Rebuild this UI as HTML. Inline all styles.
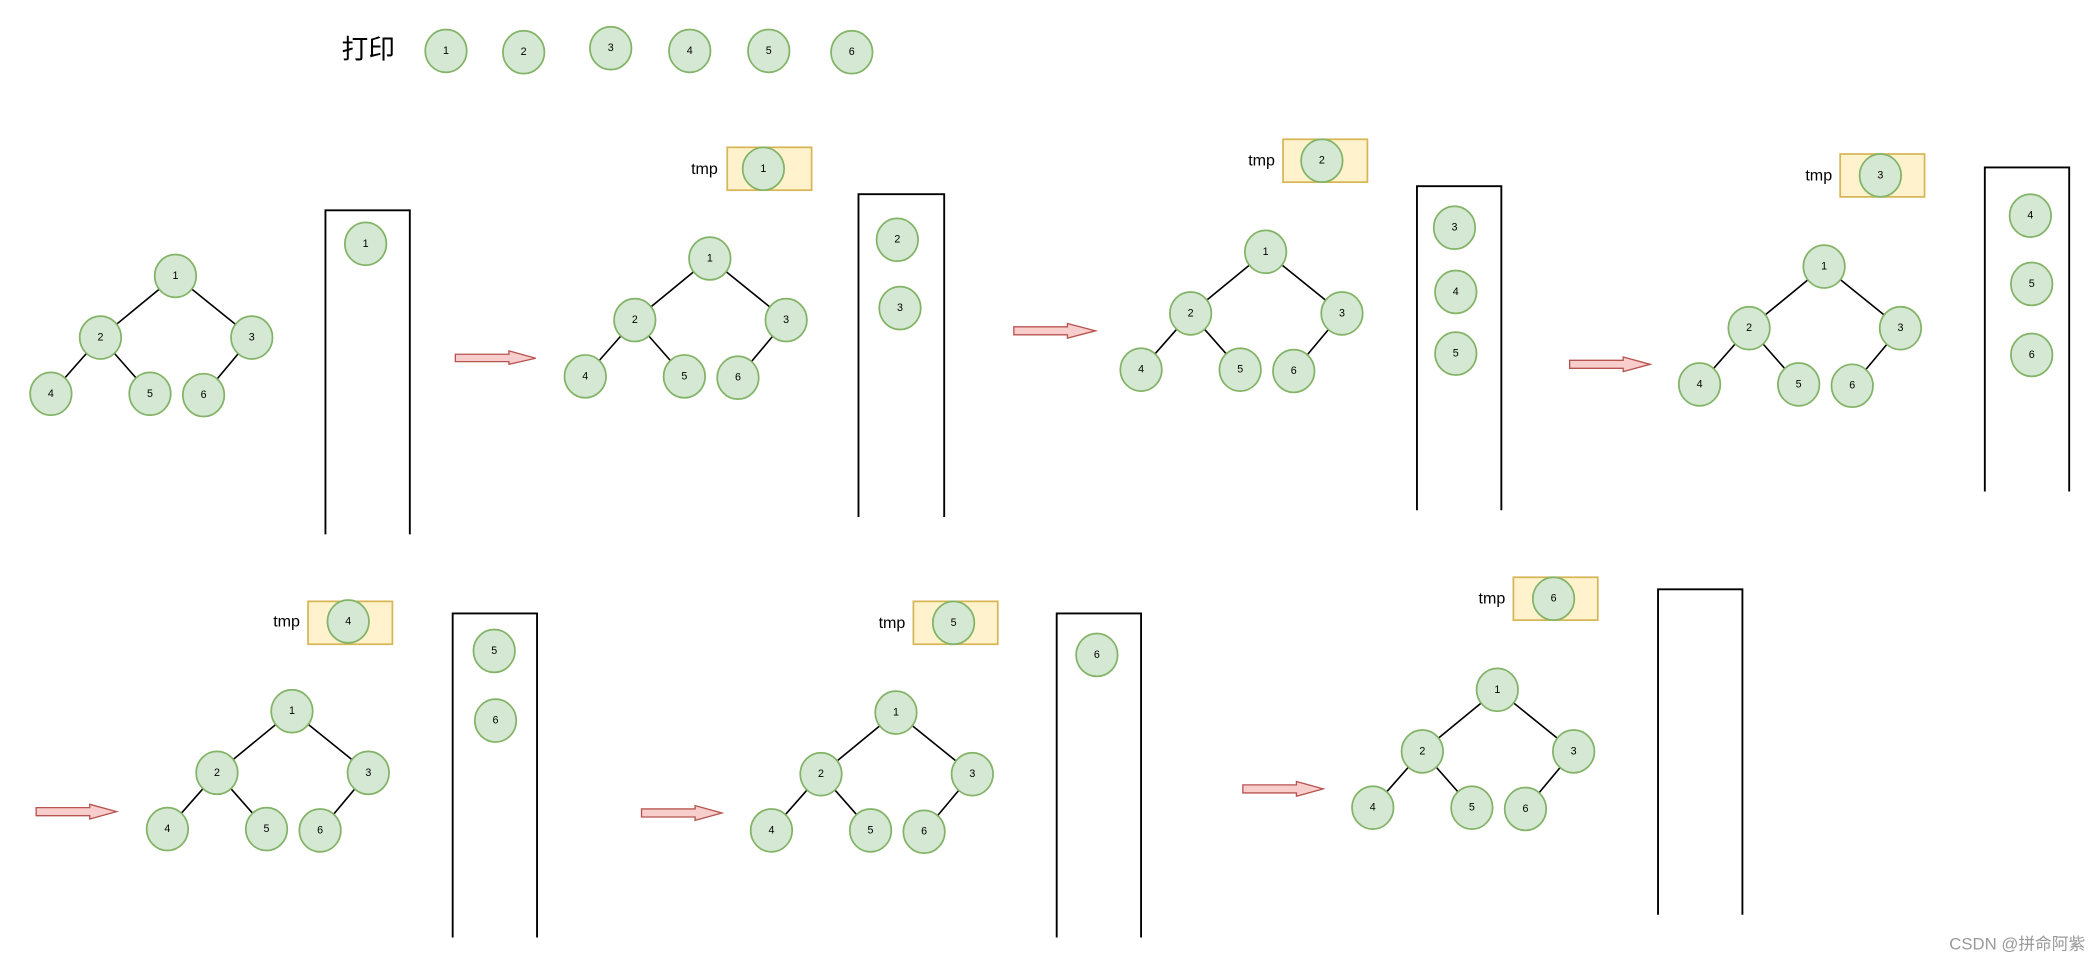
<!DOCTYPE html>
<html><head><meta charset="utf-8"><style>
html,body{margin:0;padding:0;background:#fff;}
svg{display:block}
.c{fill:#d5e8d4;stroke:#82b366;stroke-width:1.3}
.t{font-family:"Liberation Sans",sans-serif;font-size:8px;text-anchor:middle;dominant-baseline:central;fill:#000}
.l{stroke:#000;stroke-width:1.2}
.s{fill:none;stroke:#000;stroke-width:1.4}
.b{fill:#fff2cc;stroke:#d6b656;stroke-width:1.3}
.a{fill:#f8cecc;stroke:#b85450;stroke-width:1}
.tm{font-family:"Liberation Sans",sans-serif;font-size:12px;text-anchor:end;dominant-baseline:central}
</style></head><body>
<svg width="2100" height="961" viewBox="0 0 1568 717.5" preserveAspectRatio="none">
<defs>
<g id="tr">
<line class="l" x1="0" y1="0" x2="-56" y2="46"/><line class="l" x1="0" y1="0" x2="57" y2="46"/>
<line class="l" x1="-56" y1="46" x2="-93" y2="88"/><line class="l" x1="-56" y1="46" x2="-19" y2="88"/>
<line class="l" x1="57" y1="46" x2="21" y2="89"/>
<ellipse class="c" cx="0" cy="0" rx="15.5" ry="16"/><ellipse class="c" cx="-56" cy="46" rx="15.5" ry="16"/>
<ellipse class="c" cx="57" cy="46" rx="15.5" ry="16"/><ellipse class="c" cx="-93" cy="88" rx="15.5" ry="16"/>
<ellipse class="c" cx="-19" cy="88" rx="15.5" ry="16"/><ellipse class="c" cx="21" cy="89" rx="15.5" ry="16"/>
</g>
</defs>
<text x="255" y="37" style="font-family:'Liberation Sans','Noto Sans CJK SC',sans-serif;font-size:20px;dominant-baseline:central">打印</text>
<ellipse class="c" cx="333" cy="38" rx="15.5" ry="16"/><text class="t" x="333" y="38">1</text>
<ellipse class="c" cx="391" cy="39" rx="15.5" ry="16"/><text class="t" x="391" y="39">2</text>
<ellipse class="c" cx="456" cy="36" rx="15.5" ry="16"/><text class="t" x="456" y="36">3</text>
<ellipse class="c" cx="515" cy="38" rx="15.5" ry="16"/><text class="t" x="515" y="38">4</text>
<ellipse class="c" cx="574" cy="38" rx="15.5" ry="16"/><text class="t" x="574" y="38">5</text>
<ellipse class="c" cx="636" cy="39" rx="15.5" ry="16"/><text class="t" x="636" y="39">6</text>

<!-- trees -->
<g transform="translate(131,206)"><use href="#tr"/><text class="t" x="0" y="0">1</text><text class="t" x="-56" y="46">2</text><text class="t" x="57" y="46">3</text><text class="t" x="-93" y="88">4</text><text class="t" x="-19" y="88">5</text><text class="t" x="21" y="89">6</text></g>
<g transform="translate(530,193)"><use href="#tr"/><text class="t" x="0" y="0">1</text><text class="t" x="-56" y="46">2</text><text class="t" x="57" y="46">3</text><text class="t" x="-93" y="88">4</text><text class="t" x="-19" y="88">5</text><text class="t" x="21" y="89">6</text></g>
<g transform="translate(945,188)"><use href="#tr"/><text class="t" x="0" y="0">1</text><text class="t" x="-56" y="46">2</text><text class="t" x="57" y="46">3</text><text class="t" x="-93" y="88">4</text><text class="t" x="-19" y="88">5</text><text class="t" x="21" y="89">6</text></g>
<g transform="translate(1362,199)"><use href="#tr"/><text class="t" x="0" y="0">1</text><text class="t" x="-56" y="46">2</text><text class="t" x="57" y="46">3</text><text class="t" x="-93" y="88">4</text><text class="t" x="-19" y="88">5</text><text class="t" x="21" y="89">6</text></g>
<g transform="translate(218,531)"><use href="#tr"/><text class="t" x="0" y="0">1</text><text class="t" x="-56" y="46">2</text><text class="t" x="57" y="46">3</text><text class="t" x="-93" y="88">4</text><text class="t" x="-19" y="88">5</text><text class="t" x="21" y="89">6</text></g>
<g transform="translate(669,532)"><use href="#tr"/><text class="t" x="0" y="0">1</text><text class="t" x="-56" y="46">2</text><text class="t" x="57" y="46">3</text><text class="t" x="-93" y="88">4</text><text class="t" x="-19" y="88">5</text><text class="t" x="21" y="89">6</text></g>
<g transform="translate(1118,515)"><use href="#tr"/><text class="t" x="0" y="0">1</text><text class="t" x="-56" y="46">2</text><text class="t" x="57" y="46">3</text><text class="t" x="-93" y="88">4</text><text class="t" x="-19" y="88">5</text><text class="t" x="21" y="89">6</text></g>

<!-- stacks -->
<path class="s" d="M243,399V157H306V399"/>
<ellipse class="c" cx="273" cy="182" rx="15.5" ry="16"/><text class="t" x="273" y="182">1</text>
<path class="s" d="M641,386V145H705V386"/>
<ellipse class="c" cx="670" cy="179" rx="15.5" ry="16"/><text class="t" x="670" y="179">2</text>
<ellipse class="c" cx="672" cy="230" rx="15.5" ry="16"/><text class="t" x="672" y="230">3</text>
<path class="s" d="M1058,381V139H1121V381"/>
<ellipse class="c" cx="1086" cy="170" rx="15.5" ry="16"/><text class="t" x="1086" y="170">3</text>
<ellipse class="c" cx="1087" cy="218" rx="15.5" ry="16"/><text class="t" x="1087" y="218">4</text>
<ellipse class="c" cx="1087" cy="264" rx="15.5" ry="16"/><text class="t" x="1087" y="264">5</text>
<path class="s" d="M1482,367V125H1545V367"/>
<ellipse class="c" cx="1516" cy="161" rx="15.5" ry="16"/><text class="t" x="1516" y="161">4</text>
<ellipse class="c" cx="1517" cy="212" rx="15.5" ry="16"/><text class="t" x="1517" y="212">5</text>
<ellipse class="c" cx="1517" cy="265" rx="15.5" ry="16"/><text class="t" x="1517" y="265">6</text>
<path class="s" d="M338,700V458H401V700"/>
<ellipse class="c" cx="369" cy="486" rx="15.5" ry="16"/><text class="t" x="369" y="486">5</text>
<ellipse class="c" cx="370" cy="538" rx="15.5" ry="16"/><text class="t" x="370" y="538">6</text>
<path class="s" d="M789,700V458H852V700"/>
<ellipse class="c" cx="819" cy="489" rx="15.5" ry="16"/><text class="t" x="819" y="489">6</text>
<path class="s" d="M1238,683V440H1301V683"/>

<!-- tmp boxes -->
<text class="tm" x="536" y="126">tmp</text><rect class="b" x="543" y="110" width="63" height="32"/>
<ellipse class="c" cx="570" cy="126" rx="15.5" ry="16"/><text class="t" x="570" y="126">1</text>
<text class="tm" x="952" y="120">tmp</text><rect class="b" x="958" y="104" width="63" height="32"/>
<ellipse class="c" cx="987" cy="120" rx="15.5" ry="16"/><text class="t" x="987" y="120">2</text>
<text class="tm" x="1368" y="131">tmp</text><rect class="b" x="1374" y="115" width="63" height="32"/>
<ellipse class="c" cx="1404" cy="131" rx="15.5" ry="16"/><text class="t" x="1404" y="131">3</text>
<text class="tm" x="224" y="464">tmp</text><rect class="b" x="230" y="449" width="63" height="32"/>
<ellipse class="c" cx="260" cy="464" rx="15.5" ry="16"/><text class="t" x="260" y="464">4</text>
<text class="tm" x="676" y="465">tmp</text><rect class="b" x="682" y="449" width="63" height="32"/>
<ellipse class="c" cx="712" cy="465" rx="15.5" ry="16"/><text class="t" x="712" y="465">5</text>
<text class="tm" x="1124" y="447">tmp</text><rect class="b" x="1130" y="431" width="63" height="32"/>
<ellipse class="c" cx="1160" cy="447" rx="15.5" ry="16"/><text class="t" x="1160" y="447">6</text>

<!-- arrows -->
<path class="a" d="M340,264.5H380V262L400,267.5L380,272V270H340Z"/>
<path class="a" d="M757,244H797V241.5L818,247L797,252.5V250H757Z"/>
<path class="a" d="M1172,269H1212V266.5L1232,272L1212,277.5V275H1172Z"/>
<path class="a" d="M27,603H67V600.5L87,606L67,611.5V609H27Z"/>
<path class="a" d="M479,604H519V601.5L539,607L519,612.5V610H479Z"/>
<path class="a" d="M928,586H968V583.5L988,589L968,594.5V592H928Z"/>

<text x="1557" y="705" style="font-family:'Liberation Sans','Noto Sans CJK SC',sans-serif;font-size:12.5px;text-anchor:end;dominant-baseline:central;fill:#999">CSDN @拼命阿紫</text>
</svg>
</body></html>
